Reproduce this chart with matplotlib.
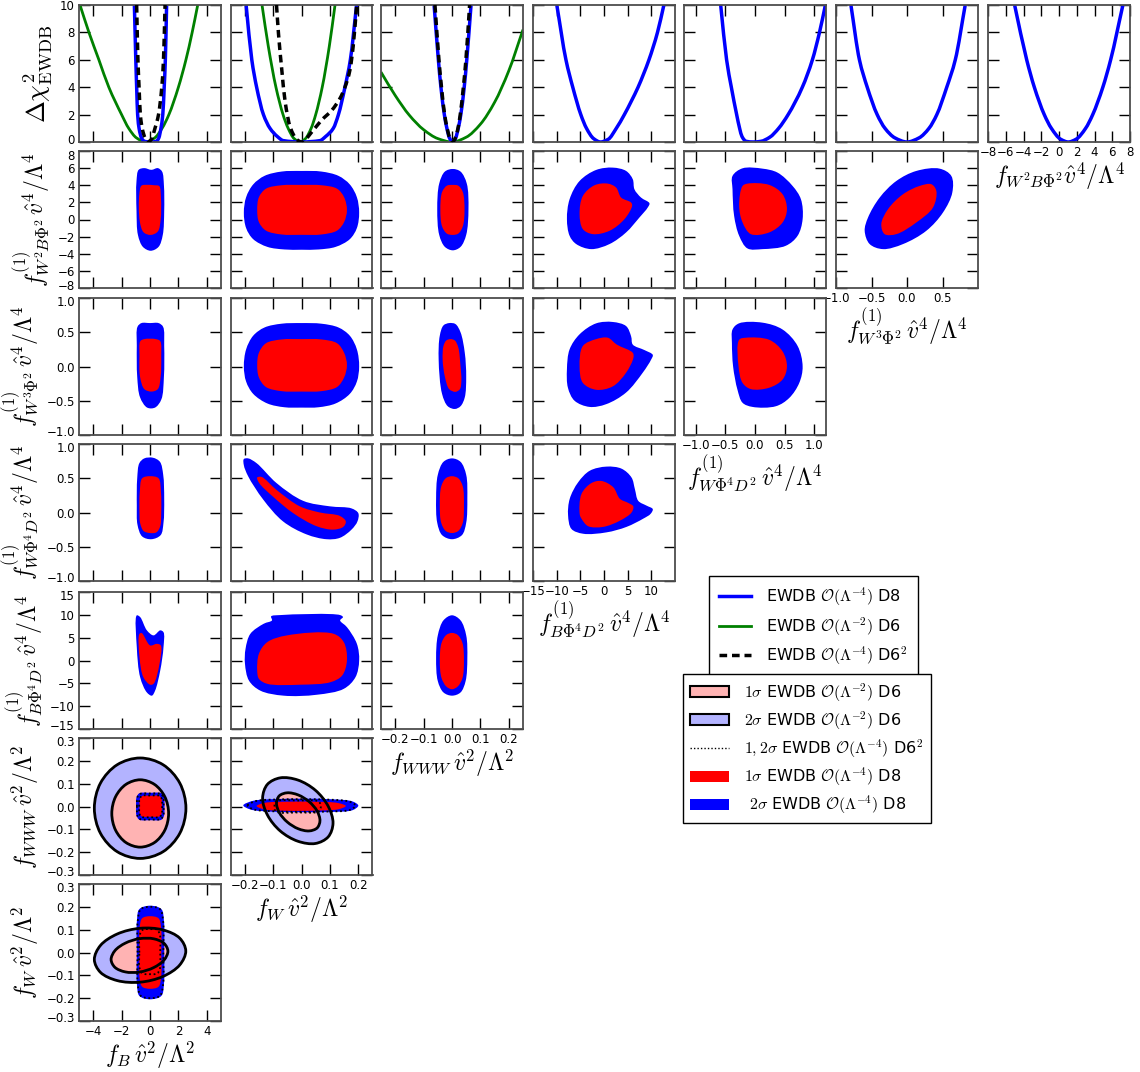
import numpy as np
import matplotlib
matplotlib.use('Agg')
import matplotlib.pyplot as plt
import matplotlib.transforms as mtransforms
from matplotlib.path import Path
from matplotlib.patches import PathPatch, Patch
from matplotlib.lines import Line2D

plt.rcParams['mathtext.fontset'] = 'cm'
plt.rcParams['font.family'] = 'DejaVu Sans'

# ---------------- 1D delta chi^2 curves (row 0) ----------------
B_d8_x = [-1.1, -1.0, -0.94, -0.87, -0.77, -0.6, -0.4, 0.05, 0.45, 0.62, 0.77, 0.9, 1.0, 1.08, 1.17]
B_d8_y = [10, 6, 4, 2, 1, 0.3, 0.05, 0, 0.05, 0.3, 1, 2, 4, 6, 10]
B_d6_x = [-4.93, -4.3, -3.6, -2.9, -2.0, -1.5, -0.95, -0.3, 0.33, 0.85, 1.33, 2.0, 2.53, 2.97, 3.36]
B_d6_y = [10, 8, 6, 4, 2, 1, 0.3, 0, 0.3, 1, 2, 4, 6, 8, 10]
B_d6sq_x = [-0.94, -0.85, -0.77, -0.68, -0.55, -0.35, -0.15, 0.1, 0.35, 0.6, 0.83, 0.95, 1.06]
B_d6sq_y = [10, 6, 4, 2, 1, 0.3, 0, 0.2, 1, 2, 4, 6, 10]

W_d8_x = [-0.195, -0.175, -0.158, -0.134, -0.111, -0.085, -0.064, 0.0, 0.065, 0.085, 0.112, 0.130, 0.153, 0.172, 0.194]
W_d8_y = [10, 6, 4, 2, 1, 0.4, 0.1, 0, 0.1, 0.4, 1, 2, 4, 6, 10]
W_d6_x = [-0.139, -0.117, -0.09, -0.065, -0.047, -0.026, -0.005, 0.014, 0.034, 0.05, 0.073, 0.098, 0.118]
W_d6_y = [10, 7, 4, 2, 1, 0.25, 0, 0.25, 1, 2, 4, 7, 10]
W_d6sq_x = [-0.088, -0.081, -0.07, -0.058, -0.04, -0.016, 0.0, 0.042, 0.071, 0.106, 0.136, 0.153, 0.171, 0.182, 0.194]
W_d6sq_y = [10, 7.9, 5.4, 3.0, 1.1, 0.17, 0, 0.88, 1.6, 2.3, 3.2, 4.0, 5.3, 7.0, 9.9]

WWW_d8_x = [-0.063, -0.048, -0.039, -0.027, -0.018, -0.009, 0.002, 0.013, 0.022, 0.031, 0.043, 0.052, 0.067]
WWW_d8_y = [10, 6, 4, 2, 1, 0.3, 0, 0.3, 1, 2, 4, 6, 10]
WWW_d6_x = [-0.25, -0.2, -0.15, -0.1, -0.05, 0.0, 0.05, 0.1, 0.15, 0.2, 0.25]
WWW_d6_y = [5.1, 3.4, 1.95, 0.9, 0.25, 0.0, 0.35, 1.3, 2.9, 5.2, 8.2]
WWW_d6sq_x = [-0.06, -0.046, -0.037, -0.026, -0.017, -0.008, 0.002, 0.012, 0.021, 0.029, 0.04, 0.049, 0.062]
WWW_d6sq_y = [10, 6, 4, 2, 1, 0.3, 0, 0.3, 1, 2, 4, 6, 10]

BP_d8_x = [-9.97, -8.04, -6.6, -4.9, -3.7, -2.2, -0.75, 0.9, 2.6, 4.3, 5.8, 7.2, 8.4, 9.5, 11.3, 12.65]
BP_d8_y = [10, 6, 4, 2, 1, 0.25, 0, 0.2, 1, 2, 3, 4, 5, 6, 8, 10]
WP_d8_x = [-0.58, -0.48, -0.4, -0.31, -0.26, -0.22, -0.15, -0.03, 0.1, 0.25, 0.4, 0.56, 0.8, 0.97, 1.09, 1.19]
WP_d8_y = [10, 6, 4, 2, 1, 0.4, 0.05, 0, 0.05, 0.35, 1, 2, 4, 6, 8, 10]
W3_d8_x = [-0.79, -0.67, -0.56, -0.42, -0.31, -0.17, 0.0, 0.17, 0.31, 0.42, 0.56, 0.68, 0.82]
W3_d8_y = [10, 6, 4, 2, 1, 0.3, 0, 0.3, 1, 2, 4, 6, 10]
W2B_d8_x = [-5.0, -3.64, -2.78, -1.66, -0.86, 0.19, 1.05, 1.92, 3.0, 3.8, 4.94, 5.82, 7.2]
W2B_d8_y = [10, 6, 4, 2, 1, 0.2, 0, 0.2, 1, 2, 4, 6, 10]

# ---------------- 2D regions: outlines (x, y) ----------------
# row f_W2BPhi2
W2B_B_2s = [(-0.95, 4.5), (-0.8, 5.8), (-0.4, 6.0), (0.1, 5.8), (0.55, 6.0), (0.85, 5.6), (0.98, 4.0),
            (1.0, 1.0), (0.9, -1.8), (0.6, -3.2), (0.05, -3.65), (-0.5, -3.2), (-0.85, -1.8), (-0.95, 1.0)]
W2B_B_1s = [(-0.75, 3.0), (-0.6, 3.95), (-0.2, 4.05), (0.3, 4.0), (0.65, 3.9), (0.77, 2.5), (0.75, 0.0),
            (0.55, -1.4), (0.05, -1.8), (-0.45, -1.5), (-0.72, -0.2)]
W2B_W_2s = [(-0.203, 0.8), (-0.195, 2.6), (-0.17, 4.1), (-0.13, 5.1), (-0.07, 5.6), (0.0, 5.67), (0.07, 5.6),
            (0.13, 5.1), (0.17, 4.1), (0.195, 2.6), (0.203, 0.8), (0.195, -1.0), (0.17, -2.3), (0.12, -3.2),
            (0.06, -3.5), (0.0, -3.53), (-0.06, -3.5), (-0.12, -3.2), (-0.17, -2.3), (-0.195, -1.0)]
W2B_W_1s = [(-0.156, 1.1), (-0.15, 2.6), (-0.125, 3.6), (-0.07, 4.0), (0.0, 4.04), (0.07, 4.0), (0.125, 3.6),
            (0.15, 2.6), (0.16, 1.1), (0.15, -0.3), (0.125, -1.3), (0.07, -1.75), (0.0, -1.79), (-0.07, -1.75),
            (-0.125, -1.3), (-0.15, -0.3)]
W2B_WWW_2s = [(-0.052, 1.2), (-0.045, 4.2), (-0.025, 5.6), (0.003, 5.9), (0.03, 5.6), (0.052, 4.2), (0.058, 1.2),
              (0.05, -1.8), (0.03, -3.2), (0.003, -3.6), (-0.025, -3.2), (-0.045, -1.8)]
W2B_WWW_1s = [(-0.041, 1.1), (-0.035, 3.2), (-0.018, 3.95), (0.002, 4.04), (0.022, 3.95), (0.038, 3.2), (0.044, 1.1),
              (0.038, -0.8), (0.022, -1.65), (0.002, -1.8), (-0.018, -1.65), (-0.035, -0.8)]
W2B_BP_2s = [(-7.83, 0.04), (-7.27, 2.37), (-5.16, 4.5), (-1.65, 5.79), (1.86, 6.06), (4.67, 5.67), (6.08, 4.7),
             (6.43, 3.53), (7.83, 2.56), (9.6, 1.9), (9.24, 1.4), (7.48, 0.23), (4.67, -1.51), (1.16, -2.87),
             (-2.7, -3.46), (-5.87, -2.87), (-7.27, -1.9)]
W2B_BP_1s = [(-5.16, 0.62), (-4.46, 2.76), (-2.0, 4.0), (0.81, 4.19), (2.56, 3.73), (3.62, 2.56), (5.73, 1.98),
             (5.94, 1.6), (4.32, 0.04), (1.16, -1.32), (-2.35, -1.71), (-4.46, -1.13)]
W2B_WP_2s = [(-0.38, 5.09), (-0.21, 5.98), (0.127, 5.94), (0.38, 5.48), (0.635, 3.92), (0.776, 2.37), (0.805, 0.04),
             (0.72, -1.9), (0.52, -3.07), (0.127, -3.46), (-0.127, -3.38), (-0.268, -1.9), (-0.353, 0.43), (-0.38, 3.53)]
W2B_WP_1s = [(-0.21, 3.92), (-0.127, 4.19), (0.24, 4.04), (0.466, 2.95), (0.54, 1.2), (0.466, -0.35), (0.24, -1.51),
             (-0.07, -1.71), (-0.21, -0.35), (-0.268, 1.6)]
W2B_W3_2s = [(-0.596, -1.32), (-0.549, 0.23), (-0.385, 2.56), (-0.15, 4.5), (0.131, 5.67), (0.46, 5.94), (0.624, 5.09),
             (0.638, 3.15), (0.507, 0.82), (0.272, -1.32), (-0.056, -2.87), (-0.338, -3.46), (-0.526, -2.87)]
W2B_W3_1s = [(-0.362, -0.54), (-0.268, 1.2), (-0.056, 2.95), (0.178, 3.92), (0.343, 4.12), (0.413, 3.34),
             (0.366, 1.4), (0.131, -0.35), (-0.15, -1.71), (-0.315, -1.71)]

# row f_W3Phi2
W3_B_2s = [(-0.93, 0.3), (-0.88, 0.58), (-0.6, 0.634), (0.0, 0.634), (0.6, 0.634), (0.92, 0.58), (1.0, 0.3),
           (0.98, -0.15), (0.8, -0.48), (0.35, -0.6), (-0.2, -0.6), (-0.7, -0.45), (-0.9, -0.15)]
W3_B_1s = [(-0.74, 0.15), (-0.68, 0.37), (-0.4, 0.4), (0.4, 0.4), (0.72, 0.37), (0.79, 0.15), (0.75, -0.15),
           (0.55, -0.33), (0.1, -0.366), (-0.4, -0.33), (-0.7, -0.15)]
W3_W_2s = [(-0.203, 0.0), (-0.195, 0.25), (-0.17, 0.45), (-0.13, 0.57), (-0.07, 0.625), (0.0, 0.634), (0.07, 0.625),
           (0.13, 0.57), (0.17, 0.45), (0.195, 0.25), (0.203, 0.0), (0.195, -0.22), (0.17, -0.4), (0.12, -0.54),
           (0.06, -0.595), (0.0, -0.6), (-0.06, -0.595), (-0.12, -0.54), (-0.17, -0.4), (-0.195, -0.22)]
W3_W_1s = [(-0.156, 0.02), (-0.15, 0.2), (-0.125, 0.34), (-0.07, 0.395), (0.0, 0.4), (0.07, 0.395), (0.125, 0.34),
           (0.15, 0.2), (0.16, 0.02), (0.15, -0.16), (0.125, -0.3), (0.07, -0.36), (0.0, -0.366), (-0.07, -0.36),
           (-0.125, -0.3), (-0.15, -0.16)]
W3_WWW_2s = [(-0.047, 0.1), (-0.043, 0.45), (-0.03, 0.6), (-0.01, 0.634), (0.012, 0.62), (0.03, 0.5), (0.045, 0.2),
             (0.05, -0.15), (0.045, -0.45), (0.03, -0.58), (0.01, -0.62), (-0.015, -0.58), (-0.035, -0.4)]
W3_WWW_1s = [(-0.033, 0.1), (-0.03, 0.3), (-0.02, 0.38), (-0.005, 0.4), (0.01, 0.38), (0.022, 0.28), (0.03, 0.0),
             (0.033, -0.2), (0.028, -0.33), (0.012, -0.37), (-0.01, -0.33), (-0.025, -0.15)]
W3_BP_2s = [(-7.83, -0.04), (-7.27, 0.25), (-5.16, 0.47), (-1.65, 0.63), (1.86, 0.65), (4.67, 0.59), (5.73, 0.44),
            (6.08, 0.32), (8.54, 0.24), (10.3, 0.17), (9.95, 0.1), (8.19, -0.09), (4.67, -0.38), (0.46, -0.55),
            (-3.06, -0.59), (-6.22, -0.5), (-7.62, -0.31)]
W3_BP_1s = [(-5.16, 0.0), (-4.46, 0.3), (-1.65, 0.4), (0.81, 0.42), (2.7, 0.32), (6.08, 0.2), (6.22, 0.13),
            (4.67, -0.09), (1.86, -0.29), (-1.65, -0.34), (-4.46, -0.24)]
W3_WP_2s = [(-0.38, 0.54), (-0.27, 0.63), (0.127, 0.64), (0.466, 0.54), (0.72, 0.3), (0.805, 0.0), (0.748, -0.24),
            (0.578, -0.46), (0.353, -0.58), (-0.042, -0.59), (-0.21, -0.53), (-0.296, -0.34), (-0.37, 0.0), (-0.39, 0.34)]
W3_WP_1s = [(-0.268, 0.39), (-0.155, 0.42), (0.24, 0.39), (0.466, 0.22), (0.54, 0.0), (0.466, -0.19), (0.24, -0.31),
            (-0.07, -0.33), (-0.21, -0.24), (-0.278, 0.0)]

# row f_WPhi4D2
WP_B_2s = [(-0.93, 0.1), (-0.9, 0.5), (-0.75, 0.72), (-0.4, 0.79), (0.2, 0.8), (0.7, 0.74), (0.93, 0.55), (1.0, 0.2),
           (0.95, -0.15), (0.75, -0.33), (0.1, -0.39), (-0.55, -0.35), (-0.88, -0.18)]
WP_B_1s = [(-0.74, 0.0), (-0.72, 0.3), (-0.55, 0.5), (0.0, 0.53), (0.6, 0.5), (0.77, 0.3), (0.79, 0.0), (0.72, -0.2),
           (0.45, -0.29), (0.0, -0.3), (-0.45, -0.27), (-0.7, -0.15)]
WP_W_2s = [(-0.203, 0.78), (-0.188, 0.79), (-0.158, 0.72), (-0.088, 0.43), (0.006, 0.17), (0.1, 0.09), (0.176, 0.06),
           (0.2, -0.01), (0.197, -0.13), (0.176, -0.25), (0.135, -0.37), (0.088, -0.39), (0.018, -0.32),
           (-0.065, -0.13), (-0.135, 0.19), (-0.188, 0.53), (-0.203, 0.69)]
WP_W_1s = [(-0.156, 0.51), (-0.141, 0.52), (-0.088, 0.33), (-0.006, 0.09), (0.065, 0.0), (0.135, -0.05), (0.156, -0.13),
           (0.147, -0.21), (0.111, -0.25), (0.053, -0.2), (-0.029, -0.01), (-0.1, 0.23), (-0.149, 0.43)]
WP_WWW_2s = [(-0.056, 0.2), (-0.05, 0.55), (-0.03, 0.74), (0.0, 0.79), (0.03, 0.74), (0.05, 0.55), (0.054, 0.2),
             (0.05, -0.15), (0.035, -0.33), (0.0, -0.39), (-0.035, -0.33), (-0.052, -0.15)]
WP_WWW_1s = [(-0.043, 0.1), (-0.038, 0.38), (-0.022, 0.5), (0.0, 0.53), (0.022, 0.5), (0.038, 0.38), (0.042, 0.1),
             (0.038, -0.15), (0.022, -0.27), (0.0, -0.3), (-0.022, -0.27), (-0.038, -0.15)]
WP_BP_2s = [(-7.59, -0.04), (-7.24, 0.2), (-5.47, 0.44), (-3.0, 0.61), (0.53, 0.67), (3.7, 0.64), (5.82, 0.51),
            (6.53, 0.34), (7.24, 0.17), (9.0, 0.1), (10.3, 0.05), (9.84, -0.02), (8.29, -0.09), (4.76, -0.21),
            (0.53, -0.29), (-4.41, -0.31), (-6.88, -0.24)]
WP_BP_1s = [(-5.12, -0.03), (-4.76, 0.27), (-2.65, 0.43), (-0.53, 0.46), (1.94, 0.37), (3.35, 0.2), (5.12, 0.14),
            (6.18, 0.09), (5.82, 0.0), (3.35, -0.12), (-0.18, -0.21), (-3.35, -0.2), (-4.76, -0.09)]

# row f_BPhi4D2
BP_B_2s = [(-0.93, 9.88), (-0.69, 9.5), (-0.22, 6.6), (0.25, 5.5), (0.72, 6.6), (0.95, 6.2), (0.95, 2.9),
           (0.72, -2.2), (0.36, -6.6), (0.13, -7.7), (-0.22, -7.0), (-0.69, -3.7), (-0.93, 2.9)]
BP_B_1s = [(-0.74, 5.85), (-0.58, 6.0), (0.01, 3.3), (0.48, 3.65), (0.76, 3.3), (0.67, -0.73), (0.25, -5.1),
           (0.01, -5.3), (-0.46, -3.7), (-0.74, 0.7)]
BP_W_2s = [(-0.197, 2.56), (-0.18, 5.85), (-0.133, 8.05), (-0.104, 8.78), (-0.107, 9.66), (-0.074, 9.95),
           (0.136, 9.95), (0.146, 9.5), (0.136, 8.78), (0.16, 7.3), (0.195, 3.66), (0.203, 0.0), (0.19, -3.66),
           (0.149, -6.2), (0.054, -7.5), (-0.063, -7.7), (-0.145, -6.6), (-0.185, -4.4), (-0.199, -0.73)]
BP_W_1s = [(-0.156, -2.2), (-0.15, 1.46), (-0.121, 4.0), (-0.051, 5.5), (0.113, 5.85), (0.149, 4.0), (0.16, 0.0),
           (0.143, -3.3), (0.102, -4.75), (-0.004, -5.3), (-0.121, -5.1), (-0.15, -4.0)]
BP_WWW_2s = [(-0.056, 0.5), (-0.05, 5.5), (-0.03, 8.8), (0.0, 9.9), (0.03, 8.8), (0.05, 5.5), (0.054, 0.5),
             (0.048, -4.5), (0.03, -7.0), (0.0, -7.7), (-0.03, -7.0), (-0.05, -4.5)]
BP_WWW_1s = [(-0.043, 0.0), (-0.037, 3.8), (-0.02, 5.6), (0.0, 6.04), (0.02, 5.6), (0.037, 3.8), (0.042, 0.0),
             (0.037, -3.8), (0.02, -5.7), (0.0, -6.3), (-0.02, -5.7), (-0.037, -3.8)]

# row f_WWW
WWW_B_d6_2s = [(2.53, -0.0075), (2.098, 0.1025), (0.918, 0.183), (-0.695, 0.2125), (-2.307, 0.183), (-3.488, 0.1025),
               (-3.92, -0.0075), (-3.488, -0.1175), (-2.307, -0.198), (-0.695, -0.2275), (0.918, -0.198),
               (2.098, -0.1175)]
WWW_B_d6_1s = [(1.31, -0.0305), (1.042, 0.043), (0.31, 0.097), (-0.69, 0.117), (-1.69, 0.097), (-2.422, 0.043),
               (-2.69, -0.0305), (-2.422, -0.104), (-1.69, -0.158), (-0.69, -0.178), (0.31, -0.158), (1.042, -0.104)]
WWW_B_2s = [(-0.98, 0.0), (-0.95, 0.04), (-0.75, 0.058), (0.0, 0.06), (0.8, 0.058), (0.99, 0.04), (1.02, 0.0),
            (0.99, -0.04), (0.8, -0.058), (0.0, -0.06), (-0.75, -0.058), (-0.95, -0.04)]
WWW_B_1s = [(-0.74, 0.0), (-0.71, 0.033), (-0.55, 0.046), (0.05, 0.047), (0.65, 0.046), (0.81, 0.033), (0.84, 0.0),
            (0.81, -0.033), (0.65, -0.044), (0.05, -0.045), (-0.55, -0.044), (-0.71, -0.033)]
WWW_B_dot1 = [(-0.76, 0.0), (-0.73, 0.035), (-0.55, 0.047), (0.05, 0.048), (0.65, 0.047), (0.82, 0.035), (0.85, 0.0),
              (0.82, -0.035), (0.65, -0.046), (0.05, -0.047), (-0.55, -0.046), (-0.73, -0.035)]
WWW_B_dot2 = [(-0.92, 0.0), (-0.89, 0.04), (-0.7, 0.055), (0.0, 0.057), (0.75, 0.055), (0.93, 0.04), (0.96, 0.0),
              (0.93, -0.04), (0.75, -0.055), (0.0, -0.057), (-0.7, -0.055), (-0.89, -0.04)]
WWW_W_d6_2s = [(0.111, -0.073), (0.094, 0.001), (0.049, 0.071), (-0.013, 0.116), (-0.075, 0.1255), (-0.12, 0.097),
               (-0.137, 0.037), (-0.12, -0.037), (-0.075, -0.107), (-0.013, -0.152), (0.049, -0.162), (0.094, -0.133)]
WWW_W_d6_1s = [(0.065, -0.062), (0.055, -0.02), (0.027, 0.021), (-0.0115, 0.0505), (-0.05, 0.06), (-0.078, 0.047),
               (-0.088, 0.015), (-0.078, -0.027), (-0.05, -0.068), (-0.0115, -0.0975), (0.027, -0.107), (0.055, -0.094)]
WWW_W_2s = [(-0.205, 0.005), (-0.17, 0.025), (-0.08, 0.033), (0.0, 0.034), (0.1, 0.032), (0.18, 0.022), (0.2, 0.004),
            (0.18, -0.016), (0.1, -0.024), (0.0, -0.025), (-0.1, -0.023), (-0.18, -0.013)]
WWW_W_1s = [(-0.158, 0.002), (-0.13, 0.016), (-0.05, 0.021), (0.05, 0.021), (0.13, 0.015), (0.156, 0.002),
            (0.13, -0.012), (0.05, -0.018), (-0.05, -0.019), (-0.13, -0.013)]
WWW_W_dot1 = [(-0.095, 0.0), (-0.09, 0.022), (-0.01, 0.026), (0.06, 0.022), (0.068, 0.0), (0.06, -0.022),
              (-0.01, -0.026), (-0.09, -0.022)]
WWW_W_dot2 = [(-0.19, 0.005), (-0.16, 0.024), (-0.08, 0.031), (0.0, 0.032), (0.1, 0.03), (0.17, 0.021), (0.19, 0.004),
              (0.17, -0.015), (0.1, -0.022), (0.0, -0.023), (-0.1, -0.021), (-0.17, -0.012)]

# row f_W
W_B_d6_2s = [(2.52, 0.0067), (2.089, 0.063), (0.91, 0.099), (-0.7, 0.106), (-2.31, 0.081), (-3.489, 0.031),
             (-3.92, -0.031), (-3.489, -0.087), (-2.31, -0.123), (-0.7, -0.13), (0.91, -0.105), (2.089, -0.055)]
W_B_d6_1s = [(1.26, 0.006), (0.99, 0.04), (0.26, 0.06), (-0.74, 0.0605), (-1.74, 0.041), (-2.47, 0.008),
             (-2.74, -0.031), (-2.47, -0.065), (-1.74, -0.085), (-0.74, -0.0855), (0.26, -0.066), (0.99, -0.033)]
W_B_2s = [(-0.93, 0.0), (-0.92, 0.14), (-0.75, 0.19), (0.0, 0.205), (0.8, 0.19), (0.98, 0.14), (1.0, 0.0),
          (0.98, -0.14), (0.8, -0.19), (0.0, -0.205), (-0.75, -0.19), (-0.92, -0.14)]
W_B_1s = [(-0.74, 0.0), (-0.73, 0.11), (-0.55, 0.15), (0.0, 0.159), (0.6, 0.15), (0.78, 0.11), (0.79, 0.0),
          (0.78, -0.11), (0.6, -0.15), (0.0, -0.159), (-0.55, -0.15), (-0.73, -0.11)]
W_B_dot1 = [(-0.75, 0.0), (-0.73, 0.075), (-0.5, 0.1), (0.0, 0.102), (0.5, 0.1), (0.7, 0.075), (0.72, 0.0),
            (0.7, -0.07), (0.5, -0.092), (0.0, -0.095), (-0.5, -0.092), (-0.73, -0.07)]
W_B_dot2 = [(-0.88, 0.0), (-0.86, 0.14), (-0.65, 0.19), (0.0, 0.2), (0.7, 0.19), (0.92, 0.14), (0.94, 0.0),
            (0.92, -0.14), (0.7, -0.19), (0.0, -0.2), (-0.65, -0.19), (-0.86, -0.14)]

# ---------------- axes setup ----------------
col_names = ['B', 'W', 'WWW', 'BP', 'WP', 'W3', 'W2B']
row_names = [None, 'W2B', 'W3', 'WP', 'BP', 'WWW', 'W']
xlims = [(-5, 5), (-0.25, 0.25), (-0.25, 0.25), (-15, 15), (-1.2, 1.2), (-1, 1), (-8, 8)]
xticks = [[-4, -2, 0, 2, 4], [-0.2, -0.1, 0.0, 0.1, 0.2], [-0.2, -0.1, 0.0, 0.1, 0.2],
          [-15, -10, -5, 0, 5, 10], [-1.0, -0.5, 0.0, 0.5, 1.0], [-1.0, -0.5, 0.0, 0.5], list(range(-8, 9, 2))]
ylims = {'W2B': (-8, 8), 'W3': (-1, 1), 'WP': (-1, 1), 'BP': (-15, 15), 'WWW': (-0.3, 0.3), 'W': (-0.3, 0.3)}
yticks = {'W2B': list(range(-8, 9, 2)), 'W3': [-1.0, -0.5, 0.0, 0.5, 1.0], 'WP': [-1.0, -0.5, 0.0, 0.5, 1.0],
          'BP': [-15, -10, -5, 0, 5, 10, 15], 'WWW': [-0.3, -0.2, -0.1, 0.0, 0.1, 0.2, 0.3],
          'W': [-0.3, -0.2, -0.1, 0.0, 0.1, 0.2, 0.3]}
labels = {
    'B': r'$f_B\,\hat{v}^2/\Lambda^2$',
    'W': r'$f_W\,\hat{v}^2/\Lambda^2$',
    'WWW': r'$f_{WWW}\,\hat{v}^2/\Lambda^2$',
    'BP': r'$f^{(1)}_{B\Phi^4D^2}\,\hat{v}^4/\Lambda^4$',
    'WP': r'$f^{(1)}_{W\Phi^4D^2}\,\hat{v}^4/\Lambda^4$',
    'W3': r'$f^{(1)}_{W^3\Phi^2}\,\hat{v}^4/\Lambda^4$',
    'W2B': r'$f^{(1)}_{W^2B\Phi^2}\,\hat{v}^4/\Lambda^4$',
}
xlabel_W2B = r'$f_{W^2B\Phi^2}\hat{v}^4/\Lambda^4$'

curves = {
    'B': [(B_d6_x, B_d6_y, 'g', 2.0, '-'), (B_d8_x, B_d8_y, 'b', 2.5, '-'), (B_d6sq_x, B_d6sq_y, 'k', 2.5, 'dash')],
    'W': [(W_d6_x, W_d6_y, 'g', 2.0, '-'), (W_d8_x, W_d8_y, 'b', 2.5, '-'), (W_d6sq_x, W_d6sq_y, 'k', 2.5, 'dash')],
    'WWW': [(WWW_d6_x, WWW_d6_y, 'g', 2.0, '-'), (WWW_d8_x, WWW_d8_y, 'b', 2.5, '-'),
            (WWW_d6sq_x, WWW_d6sq_y, 'k', 2.5, 'dash')],
    'BP': [(BP_d8_x, BP_d8_y, 'b', 2.5, '-')],
    'WP': [(WP_d8_x, WP_d8_y, 'b', 2.5, '-')],
    'W3': [(W3_d8_x, W3_d8_y, 'b', 2.5, '-')],
    'W2B': [(W2B_d8_x, W2B_d8_y, 'b', 2.5, '-')],
}
g = globals()

PINK = '#ffb3b3'
LAV = '#b3b3ff'


def closed_path(pts, sx, sy):
    # centripetal Catmull-Rom through the outline points, as cubic Bezier segments
    p = np.asarray(pts, float)
    q = p / [sx, sy]
    n = len(p)

    def d(i, j):
        return max(np.hypot(*(q[j % n] - q[i % n])) ** 0.5, 1e-9)

    verts = [p[0]]
    codes = [Path.MOVETO]
    for i in range(n):
        p0, p1, p2, p3 = p[i - 1], p[i], p[(i + 1) % n], p[(i + 2) % n]
        d1, d2, d3 = d(i - 1, i), d(i, i + 1), d(i + 1, i + 2)
        m1 = (p1 - p0) / d1 - (p2 - p0) / (d1 + d2) + (p2 - p1) / d2
        m2 = (p2 - p1) / d2 - (p3 - p1) / (d2 + d3) + (p3 - p2) / d3
        verts += [p1 + m1 * d2 / 3, p2 - m2 * d2 / 3, p2]
        codes += [Path.CURVE4] * 3
    verts.append(p[0])
    codes.append(Path.CLOSEPOLY)
    return Path(verts, codes)


def curve_path(xs, ys):
    # monotone cubic (pchip-like) through the read points, y as a function of x
    x = np.asarray(xs, float)
    y = np.asarray(ys, float)
    h = np.diff(x)
    s = np.diff(y) / h
    m = np.zeros_like(x)
    m[0], m[-1] = s[0], s[-1]
    for k in range(1, len(x) - 1):
        if s[k - 1] * s[k] > 0:
            w1 = 2 * h[k] + h[k - 1]
            w2 = h[k] + 2 * h[k - 1]
            m[k] = (w1 + w2) / (w1 / s[k - 1] + w2 / s[k])
    verts = [(x[0], y[0])]
    codes = [Path.MOVETO]
    for k in range(len(x) - 1):
        verts += [(x[k] + h[k] / 3, y[k] + m[k] * h[k] / 3),
                  (x[k + 1] - h[k] / 3, y[k + 1] - m[k + 1] * h[k] / 3),
                  (x[k + 1], y[k + 1])]
        codes += [Path.CURVE4] * 3
    return Path(verts, codes)


W_FIG, H_FIG = 1140, 1072
col_left = [79, 230.5, 381, 533, 684, 836, 988]
row_top = [5, 151, 298, 444, 592, 738, 884]
pw, ph = 142, 137
LAB = 17

fig = plt.figure(figsize=(11.4, 10.72), dpi=100)
up = mtransforms.ScaledTranslation(0, 3.5 / 100, fig.dpi_scale_trans)
down = mtransforms.ScaledTranslation(0, -3.5 / 100, fig.dpi_scale_trans)

for r in range(7):
    ncols = 7 if r == 0 else 7 - r
    for c in range(ncols):
        ax = fig.add_axes([col_left[c] / W_FIG, 1 - (row_top[r] + ph) / H_FIG, pw / W_FIG, ph / H_FIG])
        cn = col_names[c]
        ax.set_xlim(*xlims[c])
        ax.set_xticks(xticks[c])
        sx = xlims[c][1] - xlims[c][0]
        if r == 0:
            ax.set_ylim(0, 10)
            ax.set_yticks([0, 2, 4, 6, 8, 10])
            for xs, ys, colr, lw, ls in curves[cn]:
                style = (0, (2.2, 1.4)) if ls == 'dash' else '-'
                ax.add_patch(PathPatch(curve_path(xs, ys), fill=False, edgecolor=colr, lw=lw,
                                       linestyle=style, zorder=3 if colr == 'k' else 2))
            if c == 0:
                ax.set_ylabel(r'$\Delta\chi^2_{\rm EWDB}$', fontsize=19)
        else:
            rn = row_names[r]
            ax.set_ylim(*ylims[rn])
            ax.set_yticks(yticks[rn])
            sy = ylims[rn][1] - ylims[rn][0]
            key = rn + '_' + cn
            has_d6 = key + '_d6_2s' in g
            if has_d6:
                ax.add_patch(PathPatch(closed_path(g[key + '_d6_2s'], sx, sy), facecolor=LAV,
                                       edgecolor='none', zorder=1))
                ax.add_patch(PathPatch(closed_path(g[key + '_d6_1s'], sx, sy), facecolor=PINK,
                                       edgecolor='none', zorder=1.1))
            ax.add_patch(PathPatch(closed_path(g[key + '_2s'], sx, sy), facecolor='b', edgecolor='none', zorder=2))
            ax.add_patch(PathPatch(closed_path(g[key + '_1s'], sx, sy), facecolor='r', edgecolor='none', zorder=2.1))
            if has_d6:
                for nm in ('_d6_2s', '_d6_1s'):
                    ax.add_patch(PathPatch(closed_path(g[key + nm], sx, sy), fill=False, edgecolor='k',
                                           lw=2, zorder=3))
                for nm in ('_dot1', '_dot2'):
                    ax.add_patch(PathPatch(closed_path(g[key + nm], sx, sy), fill=False, edgecolor='k', lw=1.3,
                                           linestyle=(0, (1, 1.5)), zorder=4))
            if c == 0:
                ax.set_ylabel(labels[rn], fontsize=LAB)
        bottom = (r == 6 - c)
        ax.tick_params(direction='in', top=True, right=True, length=8, width=1, labelsize=8.5,
                       labelbottom=bottom, labelleft=(c == 0), pad=3)
        ax.tick_params(which='minor', length=0)
        for s in ax.spines.values():
            s.set_color('0.3')
            s.set_linewidth(1.3)
        if c == 0:
            # keep the end labels of stacked panels from running into each other
            yt = ax.yaxis.get_major_ticks()
            yt[0].label1.set_transform(yt[0].label1.get_transform() + up)
            if r > 0:
                yt[-1].label1.set_transform(yt[-1].label1.get_transform() + down)
        if bottom:
            ax.set_xlabel(xlabel_W2B if c == 6 else labels[cn], fontsize=LAB, labelpad=1)

# ---------------- legends ----------------
h1 = [Line2D([], [], color='b', lw=2.5), Line2D([], [], color='g', lw=2),
      Line2D([], [], color='k', lw=2.5, linestyle=(0, (2.2, 1.4)))]
l1 = [r'EWDB $\mathcal{O}(\Lambda^{-4})$ D8', r'EWDB $\mathcal{O}(\Lambda^{-2})$ D6',
      r'EWDB $\mathcal{O}(\Lambda^{-4})$ D6$^2$']
leg1 = fig.legend(h1, l1, loc='upper left', bbox_to_anchor=(709 / W_FIG, 1 - 576 / H_FIG), fontsize=11.5,
                  fancybox=False, edgecolor='k', framealpha=1, borderaxespad=0, handlelength=2.0,
                  handletextpad=1.0, labelspacing=0.45, borderpad=0.6)
leg1.get_frame().set_linewidth(1.0)

h2 = [Patch(facecolor=PINK, edgecolor='k', lw=1.5), Patch(facecolor=LAV, edgecolor='k', lw=1.5),
      Line2D([], [], color='k', lw=1.0, linestyle=(0, (1, 1.5))),
      Patch(facecolor='r', edgecolor='none'), Patch(facecolor='b', edgecolor='none')]
l2 = [r'$1\sigma$ EWDB $\mathcal{O}(\Lambda^{-2})$ D6', r'$2\sigma$ EWDB $\mathcal{O}(\Lambda^{-2})$ D6',
      r'$1,2\sigma$ EWDB $\mathcal{O}(\Lambda^{-4})$ D6$^2$', r'$1\sigma$ EWDB $\mathcal{O}(\Lambda^{-4})$ D8',
      r' $2\sigma$ EWDB $\mathcal{O}(\Lambda^{-4})$ D8']
leg2 = fig.legend(h2, l2, loc='upper left', bbox_to_anchor=(683 / W_FIG, 1 - 674 / H_FIG), fontsize=11.5,
                  fancybox=False, edgecolor='k', framealpha=1, borderaxespad=0, handlelength=2.4,
                  handletextpad=1.0, labelspacing=0.36, borderpad=0.45)
leg2.get_frame().set_linewidth(1.0)

fig.savefig('out.png', dpi=100)
